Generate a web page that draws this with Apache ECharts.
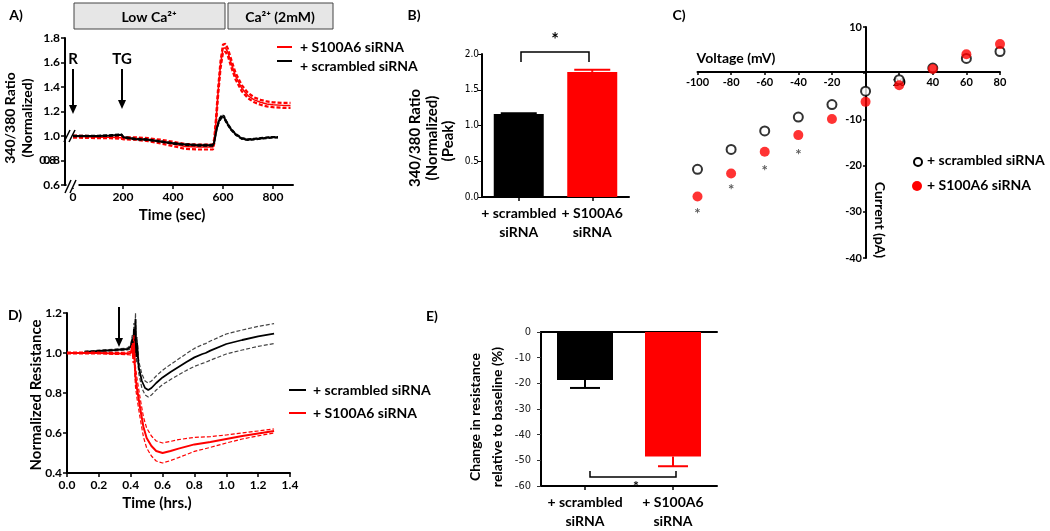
<!DOCTYPE html>
<html><head><meta charset="utf-8">
<script src="https://cdn.jsdelivr.net/npm/echarts@6/dist/echarts.min.js"></script>
<style>html,body{margin:0;padding:0;background:#fff}#c{width:1050px;height:531px}</style>
</head><body><div id="c"></div>
<script>
// ---------- Panel A: 340/380 ratio traces ----------
const aTimeScr = [0,50,100,150,195,202,210,250,300,350,400,450,500,560,565,575,585,595,605,615,630,650,675,700,725,750,775,800,820];
const aScr     = [1.0,1.0,1.0,1.005,1.01,0.99,0.978,0.975,0.97,0.955,0.94,0.93,0.925,0.925,0.95,1.06,1.13,1.16,1.15,1.11,1.06,1.015,0.98,0.97,0.975,0.98,0.985,0.99,0.99];
const aScrSem  = [0.006,0.006,0.006,0.006,0.006,0.006,0.006,0.006,0.006,0.006,0.006,0.007,0.007,0.007,0.008,0.012,0.015,0.015,0.015,0.012,0.01,0.008,0.007,0.006,0.006,0.006,0.006,0.006,0.006];
const aTimeS   = [0,50,100,150,195,205,250,300,350,400,450,500,560,565,572,580,590,600,610,620,635,650,675,700,725,750,775,800,840,870];
const aS       = [0.995,0.993,0.99,0.99,0.985,0.98,0.98,0.97,0.955,0.935,0.915,0.91,0.91,0.96,1.12,1.35,1.58,1.715,1.72,1.68,1.58,1.49,1.39,1.33,1.295,1.275,1.262,1.255,1.25,1.25];
const aSSem    = [0.008,0.008,0.008,0.008,0.008,0.008,0.01,0.012,0.015,0.018,0.02,0.02,0.02,0.02,0.025,0.03,0.03,0.032,0.032,0.03,0.03,0.028,0.025,0.022,0.02,0.02,0.02,0.02,0.02,0.02];
const aXTicks  = [0,200,400,600,800];
const aYTicks  = [0.6,0.8,1.0,1.2,1.4,1.6,1.8];

// ---------- Panel B: peak ratio ----------
const bCats  = ['+ scrambled\nsiRNA', '+ S100A6\nsiRNA'];
const bMeans = [1.16, 1.75];
const bSems  = [0.01, 0.03];

// ---------- Panel C: I-V ----------
const cVolt  = [-100,-80,-60,-40,-20,0,20,40,60,80];
const cScr   = [-20.8,-16.5,-12.5,-9.5,-6.8,-3.9,-1.4,1.1,3.2,4.7];
const cS     = [-26.7,-21.7,-17.0,-13.4,-9.9,-6.2,-2.6,0.9,4.1,6.3];
const cStarV = [-100,-80,-60,-40];
const cStarI = [-29.6,-24.4,-20.3,-16.8];

// ---------- Panel D: normalized resistance ----------
const dTimeScr = [0.11,0.2,0.3,0.38,0.40,0.41,0.415,0.42,0.425,0.43,0.435,0.44,0.45,0.47,0.49,0.51,0.53,0.56,0.6,0.65,0.7,0.75,0.8,0.85,0.87,0.9,1.0,1.1,1.2,1.3];
const dScr     = [1.005,1.01,1.015,1.02,1.03,1.07,1.0,1.12,1.0,1.17,0.98,1.05,0.93,0.86,0.825,0.815,0.825,0.85,0.878,0.905,0.93,0.955,0.978,0.995,1.0,1.012,1.045,1.065,1.083,1.097];
const dScrSem  = [0.004,0.004,0.004,0.005,0.01,0.02,0.02,0.03,0.03,0.03,0.03,0.03,0.03,0.035,0.035,0.035,0.035,0.035,0.036,0.038,0.04,0.042,0.045,0.047,0.047,0.048,0.05,0.05,0.05,0.05];
const dTimeS   = [0,0.1,0.2,0.3,0.38,0.40,0.41,0.415,0.42,0.425,0.43,0.44,0.46,0.48,0.5,0.53,0.56,0.6,0.65,0.7,0.8,0.9,1.0,1.1,1.2,1.3];
const dS       = [1.0,1.0,1.0,0.998,0.998,1.0,1.03,0.98,1.05,0.95,0.88,0.82,0.72,0.63,0.575,0.535,0.51,0.50,0.51,0.522,0.543,0.555,0.57,0.585,0.598,0.61];
const dSSem    = [0.004,0.004,0.004,0.005,0.006,0.01,0.02,0.03,0.04,0.04,0.05,0.05,0.05,0.05,0.05,0.05,0.05,0.05,0.048,0.045,0.035,0.027,0.02,0.015,0.012,0.01];

// ---------- Panel E: change in resistance ----------
const eCats  = ['+ scrambled\nsiRNA', '+ S100A6\nsiRNA'];
const eMeans = [-18.7, -48.5];
const eSems  = [3.1, 3.8];

// ---------- helpers ----------
const F = 'Lato, "Open Sans", sans-serif';
const NARROW = '"Liberation Sans Narrow", "DejaVu Sans Condensed", "Liberation Sans", sans-serif';
const RED = '#ff0000';
const zip = (xs, ys) => xs.map((x, i) => [x, ys[i]]);
const band = (xs, ys, ss, sign) => xs.map((x, i) => [x, ys[i] + sign * ss[i]]);
const lineSeries = (gi, data, color, width, dashed, z) => ({
  type: 'line', xAxisIndex: gi, yAxisIndex: gi, data, showSymbol: false, symbol: 'none',
  lineStyle: {color, width, type: dashed ? [4, 2] : 'solid'}, silent: true, animation: false, z: z || 2
});
function errRender(capW, dir) {
  return function (params, api) {
    const i = api.value(0), m = api.value(1), s = api.value(2);
    const p0 = api.coord([i, m]), p1 = api.coord([i, m + dir * s]);
    const col = api.visual('color');
    return {type: 'group', children: [
      {type: 'line', shape: {x1: p0[0], y1: p0[1], x2: p1[0], y2: p1[1]}, style: {stroke: col, lineWidth: 2}},
      {type: 'line', shape: {x1: p1[0] - capW / 2, y1: p1[1], x2: p1[0] + capW / 2, y2: p1[1]}, style: {stroke: col, lineWidth: 2}}
    ]};
  };
}
const T = (x, y, s, size, o) => Object.assign({type: 'text', x, y, z: 100,
  style: {text: s, fontFamily: F, fontWeight: 'bold', fontSize: size, fill: '#000', align: 'center', verticalAlign: 'middle'}}, o || {});
const TL = (x, y, s, size) => T(x, y, s, size, {style: {text: s, fontFamily: F, fontWeight: 'bold', fontSize: size, fill: '#000', align: 'left', verticalAlign: 'middle'}});
const L = (x1, y1, x2, y2, c, w) => ({type: 'line', z: 100, shape: {x1, y1, x2, y2}, style: {stroke: c || '#000', lineWidth: w || 2}});
const P = (pts, c, w) => ({type: 'polyline', z: 100, shape: {points: pts}, style: {stroke: c || '#000', lineWidth: w || 1.5, fill: null}});
const HEAD = (x, y) => ({type: 'polygon', z: 100, shape: {points: [[x - 4, y - 9], [x + 4, y - 9], [x, y]]}, style: {fill: '#000'}});

const axisLineK = {show: true, onZero: false, lineStyle: {color: '#000', width: 2}};
const tickK = {show: true, length: 4, lineStyle: {color: '#000', width: 1.5}};
const lab = (o) => Object.assign({hideOverlap: false, showMinLabel: true, showMaxLabel: true, color: '#000'}, o);

const chart = echarts.init(document.getElementById('c'), null, {renderer: 'canvas'});
chart.setOption({
  animation: false,
  backgroundColor: '#fff',
  grid: [
    {left: 65, top: 38, width: 228, height: 147},
    {left: 482, top: 54, width: 147, height: 143},
    {left: 697.5, top: 27, width: 302.5, height: 231},
    {left: 67, top: 313, width: 223, height: 160},
    {left: 541, top: 332, width: 176, height: 157}
  ],
  xAxis: [
    {gridIndex: 0, type: 'value', min: -32, max: 880, axisLine: axisLineK,
     axisTick: Object.assign({customValues: aXTicks}, tickK), splitLine: {show: false},
     axisLabel: lab({customValues: aXTicks, fontFamily: F, fontWeight: 'bold', fontSize: 12, margin: 6})},
    {gridIndex: 1, type: 'category', data: bCats, axisLine: axisLineK, axisTick: Object.assign({alignWithLabel: true}, tickK),
     axisLabel: lab({interval: 0, fontFamily: F, fontWeight: 'bold', fontSize: 14, margin: 7, lineHeight: 19})},
    {gridIndex: 2, type: 'value', min: -100, max: 80, interval: 20, position: 'bottom', offset: -186, axisLine: axisLineK,
     axisTick: {show: true, length: 3, lineStyle: {color: '#000', width: 1.5}}, splitLine: {show: false},
     axisLabel: lab({fontFamily: F, fontWeight: 'bold', fontSize: 11, margin: 5, formatter: v => v === 0 ? '' : String(v)})},
    {gridIndex: 3, type: 'value', min: 0, max: 1.4, interval: 0.2, axisLine: axisLineK,
     axisTick: tickK, splitLine: {show: false},
     axisLabel: lab({fontFamily: F, fontWeight: 'bold', fontSize: 12, margin: 6, formatter: v => v.toFixed(1)})},
    {gridIndex: 4, type: 'category', data: eCats, position: 'bottom', axisLine: axisLineK,
     axisTick: Object.assign({alignWithLabel: true}, tickK),
     axisLabel: lab({interval: 0, fontFamily: F, fontWeight: 'bold', fontSize: 14, margin: 7, lineHeight: 19})},
    {gridIndex: 4, type: 'category', data: eCats, position: 'top', axisLine: axisLineK,
     axisTick: {show: false}, axisLabel: {show: false}}
  ],
  yAxis: [
    {gridIndex: 0, type: 'value', min: 0.6, max: 1.8, axisLine: axisLineK,
     axisTick: Object.assign({customValues: aYTicks}, tickK), splitLine: {show: false},
     axisLabel: lab({customValues: aYTicks, fontFamily: F, fontWeight: 'bold', fontSize: 12, margin: 5, formatter: v => Number(v).toFixed(1)})},
    {gridIndex: 1, type: 'value', min: 0, max: 2, interval: 0.5, axisLine: axisLineK, axisTick: {show: true, length: 4, lineStyle: {color: '#000', width: 1}},
     splitLine: {show: false},
     axisLabel: lab({fontFamily: NARROW, fontSize: 10, margin: 3, formatter: v => v.toFixed(1)})},
    {gridIndex: 2, type: 'value', min: -40, max: 10, interval: 10, position: 'left', offset: -168.5, axisLine: axisLineK,
     axisTick: {show: true, length: 3, lineStyle: {color: '#000', width: 1.5}}, splitLine: {show: false},
     axisLabel: lab({fontFamily: F, fontWeight: 'bold', fontSize: 11, margin: 4, formatter: v => v === 0 ? '' : String(v)})},
    {gridIndex: 3, type: 'value', min: 0.4, max: 1.2, interval: 0.2, axisLine: axisLineK,
     axisTick: tickK, splitLine: {show: false},
     axisLabel: lab({fontFamily: F, fontWeight: 'bold', fontSize: 12, margin: 5, formatter: v => v.toFixed(1)})},
    {gridIndex: 4, type: 'value', min: -60, max: 0, interval: 10, axisLine: axisLineK,
     axisTick: {show: true, length: 4, lineStyle: {color: '#333', width: 1}}, splitLine: {show: false},
     axisLabel: lab({fontFamily: NARROW, fontSize: 11, color: '#222', margin: 10})}
  ],
  series: [
    // Panel A
    lineSeries(0, band(aTimeS, aS, aSSem, 1), RED, 2.2, true),
    lineSeries(0, band(aTimeS, aS, aSSem, -1), RED, 2.2, true),
    lineSeries(0, zip(aTimeS, aS), RED, 1.5, false),
    lineSeries(0, band(aTimeScr, aScr, aScrSem, 1), '#000', 1.2, true, 3),
    lineSeries(0, band(aTimeScr, aScr, aScrSem, -1), '#000', 1.2, true, 3),
    lineSeries(0, zip(aTimeScr, aScr), '#000', 2, false, 3),
    // Panel B
    {type: 'bar', xAxisIndex: 1, yAxisIndex: 1, barWidth: 50, silent: true,
     data: bMeans.map((v, i) => ({value: v, itemStyle: {color: i === 0 ? '#000' : RED}}))},
    {type: 'custom', xAxisIndex: 1, yAxisIndex: 1, renderItem: errRender(36, 1), encode: {x: 0, y: 1}, silent: true, z: 3,
     data: bMeans.map((v, i) => ({value: [i, v, bSems[i]], itemStyle: {color: i === 0 ? '#000' : RED}}))},
    // Panel C
    {type: 'scatter', xAxisIndex: 2, yAxisIndex: 2, symbol: 'circle', symbolSize: 9, silent: true, z: 3,
     itemStyle: {color: '#fff', borderColor: '#000', borderWidth: 2}, data: zip(cVolt, cScr)},
    {type: 'scatter', xAxisIndex: 2, yAxisIndex: 2, symbol: 'circle', symbolSize: 10, silent: true, z: 4,
     itemStyle: {color: RED}, data: zip(cVolt, cS)},
    {type: 'scatter', xAxisIndex: 2, yAxisIndex: 2, symbolSize: 1, silent: true, itemStyle: {color: 'rgba(0,0,0,0)'}, z: 4,
     label: {show: true, position: 'inside', formatter: '*', fontFamily: F, fontWeight: 'bold', fontSize: 15, color: '#333', offset: [0, 4]},
     data: zip(cStarV, cStarI)},
    // Panel D
    lineSeries(3, band(dTimeScr, dScr, dScrSem, 1), '#444', 1.2, true, 2),
    lineSeries(3, band(dTimeScr, dScr, dScrSem, -1), '#444', 1.2, true, 2),
    lineSeries(3, zip(dTimeScr, dScr), '#000', 1.8, false, 2),
    lineSeries(3, band(dTimeS, dS, dSSem, 1), RED, 1.2, true, 3),
    lineSeries(3, band(dTimeS, dS, dSSem, -1), RED, 1.2, true, 3),
    lineSeries(3, zip(dTimeS, dS), RED, 2, false, 3),
    // Panel E
    {type: 'bar', xAxisIndex: 4, yAxisIndex: 4, barWidth: 56, silent: true,
     data: eMeans.map((v, i) => ({value: v, itemStyle: {color: i === 0 ? '#000' : RED}}))},
    {type: 'custom', xAxisIndex: 4, yAxisIndex: 4, renderItem: errRender(30, -1), encode: {x: 0, y: 1}, silent: true, z: 3,
     data: eMeans.map((v, i) => ({value: [i, v, eSems[i]], itemStyle: {color: i === 0 ? '#000' : RED}}))}
  ],
  graphic: [
    // Panel labels
    T(16, 15, 'A)', 14), T(414, 15, 'B)', 14), T(679, 15, 'C)', 14), T(15, 315, 'D)', 14), T(432, 316, 'E)', 14),
    // Panel A header boxes
    {type: 'rect', z: 100, shape: {x: 74, y: 3, width: 151, height: 26}, style: {fill: '#e6e6e6', stroke: '#444', lineWidth: 1}},
    {type: 'rect', z: 100, shape: {x: 228, y: 3, width: 105, height: 26}, style: {fill: '#e6e6e6', stroke: '#444', lineWidth: 1}},
    T(149, 17, 'Low Ca²⁺', 14), T(280, 17, 'Ca²⁺ (2mM)', 14),
    // Panel A arrows
    T(73, 59, 'R', 15), L(73, 69, 73, 106), HEAD(73, 114),
    T(122, 59, 'TG', 15), L(122, 69, 122, 101), HEAD(122, 109),
    // Panel A axis breaks
    {type: 'rect', z: 99, shape: {x: 66.5, y: 183, width: 12, height: 5}, style: {fill: '#fff'}},
    L(64, 142, 70, 130, '#000', 1.5), L(69, 142, 75, 130, '#000', 1.5),
    L(65, 193, 71, 180, '#000', 1.5), L(70, 193, 76, 180, '#000', 1.5),
    // Panel A: 0.8 tick label (the axis drops it in this layout)
    {type: 'text', x: 56, y: 160.5, z: 200, style: {text: '0.8', fontFamily: F, fontWeight: 'bold', fontSize: 12, fill: '#000', align: 'right', verticalAlign: 'middle'}},
    // Panel A titles + legend
    T(10, 118, '340/380 Ratio', 14, {rotation: Math.PI / 2}),
    T(27, 118, '(Normalized)', 14, {rotation: Math.PI / 2}),
    T(172, 215, 'Time (sec)', 15),
    L(277, 47, 292, 47, RED, 2), TL(300, 47, '+ S100A6 siRNA', 14),
    L(277, 61, 292, 61, '#000', 2), TL(300, 66, '+ scrambled siRNA', 14),
    // Panel B titles + significance
    T(415, 138, '340/380 Ratio', 15, {rotation: Math.PI / 2}),
    T(432, 138, '(Normalized)', 15, {rotation: Math.PI / 2}),
    T(448, 141, '(Peak)', 15, {rotation: Math.PI / 2}),
    P([[521, 62], [521, 52], [589, 52], [589, 62]]), T(555, 40, '*', 18),
    // Panel C titles + legend
    T(736, 58, 'Voltage (mV)', 14),
    T(880, 220, 'Current (pA)', 14, {rotation: -Math.PI / 2}),
    {type: 'circle', z: 100, shape: {cx: 918, cy: 162, r: 4}, style: {fill: '#fff', stroke: '#000', lineWidth: 2}},
    TL(927, 160, '+ scrambled siRNA', 14),
    {type: 'circle', z: 100, shape: {cx: 917, cy: 186, r: 5}, style: {fill: RED}},
    TL(927, 185, '+ S100A6 siRNA', 14),
    // Panel D titles, arrow, legend
    T(36, 395, 'Normalized Resistance', 15, {rotation: Math.PI / 2}),
    T(157, 503, 'Time (hrs.)', 15),
    L(119, 307, 119, 339), HEAD(119, 347),
    L(289, 390, 306, 390, '#000', 2), TL(313, 390, '+ scrambled siRNA', 14),
    L(289, 413, 306, 413, RED, 2), TL(313, 413, '+ S100A6 siRNA', 14),
    // Panel E titles + significance
    T(475, 417, 'Change in resistance', 14, {rotation: Math.PI / 2}),
    T(497, 417, 'relative to baseline (%)', 14, {rotation: Math.PI / 2}),
    P([[590, 471], [590, 477], [676, 477], [676, 471]]), T(636, 486, '*', 14)
  ]
});
</script>
</body></html>
